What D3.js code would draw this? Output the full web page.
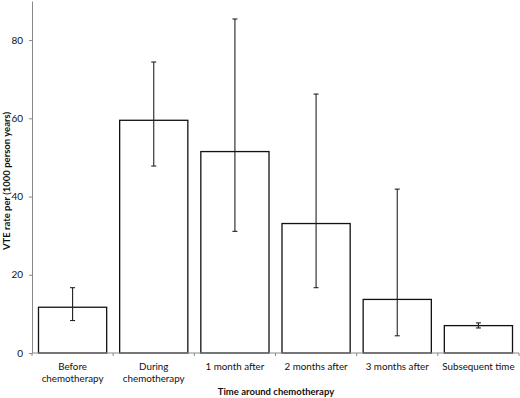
<!DOCTYPE html>
<html>
<head>
<meta charset="utf-8">
<script src="https://cdn.jsdelivr.net/npm/d3@7"></script>
<style>
  body { margin: 0; background: #fff; }
  svg text { font-family: Lato, "Open Sans", sans-serif; fill: #111; }
</style>
</head>
<body>
<div id="chart"></div>
<script type="text/javascript">
    // Data
    categories = [["Before", "chemotherapy"], ["During", "chemotherapy"], ["1 month after"],
                  ["2 months after"], ["3 months after"], ["Subsequent time"]]
    rates = [11.7, 59.5, 51.5, 33.1, 13.7, 7.0]
    ci_low = [8.3, 47.8, 31.1, 16.7, 4.4, 6.4]
    ci_high = [16.7, 74.4, 85.4, 66.2, 41.9, 7.7]
    y_ticks = [0, 20, 40, 60, 80]

    canvas = ({width: 520, height: 398})
    margin = ({top: 1, right: 1, bottom: 45, left: 32})

    x = d3.scaleBand()
        .domain(d3.range(categories.length))
        .range([margin.left, canvas.width - margin.right])
        .paddingInner(0.16)
        .paddingOuter(0.08)

    y = d3.scaleLinear()
        .domain([0, 90])
        .range([canvas.height - margin.bottom, margin.top])

    var svg = d3.select("#chart").append("svg")
        .attr("width", canvas.width)
        .attr("height", canvas.height)

    // bars
    svg.append("g").selectAll("rect")
        .data(rates)
        .join("rect")
        .attr("x", (d, i) => x(i))
        .attr("y", d => y(d))
        .attr("width", x.bandwidth())
        .attr("height", d => y(0) - y(d))
        .attr("fill", "#fff")
        .attr("stroke", "#111")
        .attr("stroke-width", 1.3)

    // error bars
    err = svg.append("g").attr("stroke", "#222").attr("stroke-width", 1.1)
    rates.forEach(function(d, i) {
        cx = x(i) + x.bandwidth() / 2
        err.append("line").attr("x1", cx).attr("x2", cx).attr("y1", y(ci_low[i])).attr("y2", y(ci_high[i]))
        err.append("line").attr("x1", cx - 2.5).attr("x2", cx + 2.5).attr("y1", y(ci_low[i])).attr("y2", y(ci_low[i]))
        err.append("line").attr("x1", cx - 2.5).attr("x2", cx + 2.5).attr("y1", y(ci_high[i])).attr("y2", y(ci_high[i]))
    })

    // y axis
    yAxis = svg.append("g")
        .attr("transform", `translate(${margin.left},0)`)
        .call(d3.axisLeft(y).tickValues(y_ticks).tickSize(3).tickSizeOuter(0))
    yAxis.selectAll("path, line").attr("stroke", "#888")
    yAxis.selectAll("text").attr("font-size", 10).attr("dx", -3)
        .style("font-family", "Lato, sans-serif")

    // x axis
    step = x.step()
    xAxis = svg.append("g").attr("stroke", "#888")
    xAxis.append("line")
        .attr("x1", margin.left).attr("x2", canvas.width - margin.right)
        .attr("y1", y(0)).attr("y2", y(0))
    d3.range(categories.length + 1).forEach(function(i) {
        xx = margin.left + i * step
        xAxis.append("line").attr("x1", xx).attr("x2", xx).attr("y1", y(0)).attr("y2", y(0) + 3)
    })

    labels = svg.append("g").attr("font-size", 9.8).attr("text-anchor", "middle")
    categories.forEach(function(lines, i) {
        t = labels.append("text")
            .attr("x", x(i) + x.bandwidth() / 2)
            .attr("y", y(0) + 17)
        lines.forEach(function(s, k) {
            t.append("tspan").attr("x", x(i) + x.bandwidth() / 2).attr("dy", k == 0 ? 0 : 12).text(s)
        })
    })

    // axis titles
    svg.append("text")
        .attr("x", 276).attr("y", 395)
        .attr("text-anchor", "middle")
        .attr("font-size", 9.5).attr("font-weight", "bold")
        .text("Time around chemotherapy")

    svg.append("text")
        .attr("transform", "translate(10,181) rotate(-90)")
        .attr("text-anchor", "middle")
        .attr("font-size", 9.5).attr("font-weight", "bold")
        .text("VTE rate per (1000 person years)")
</script>
</body>
</html>
